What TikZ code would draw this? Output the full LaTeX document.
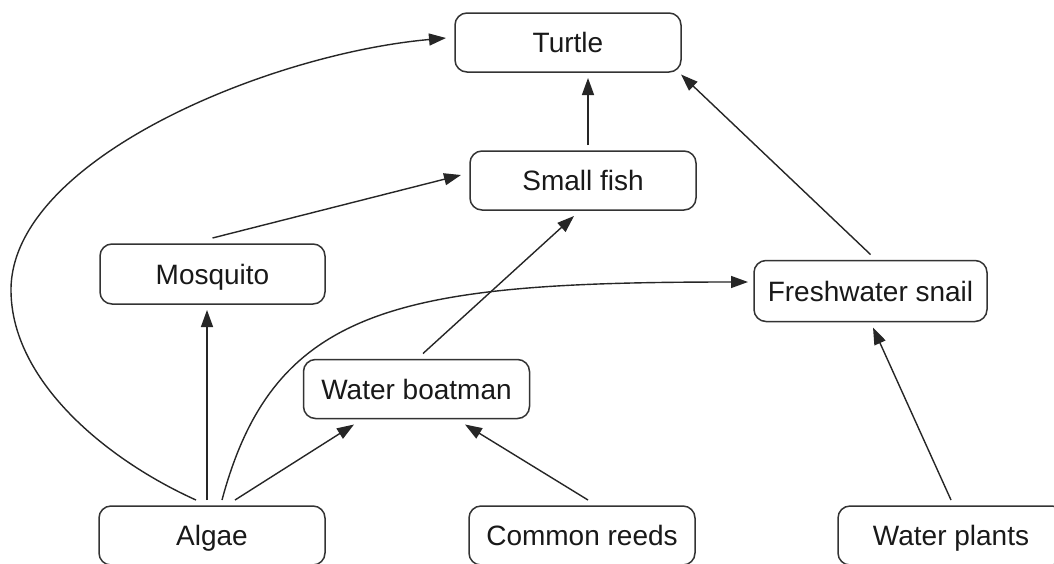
\documentclass[tikz,border=0pt]{standalone}
\usepackage{fontspec}
\setmainfont{Liberation Sans}
\usetikzlibrary{arrows.meta}
\begin{document}
\begin{tikzpicture}[x=1pt,y=-1pt,
  box/.style={draw=black!80, line width=1.5pt, rounded corners=12pt,
    minimum width=226pt, minimum height=59pt, inner sep=2pt, outer sep=6pt,
    text height=20.5pt, text depth=0pt,
    font=\fontsize{28}{33}\selectfont, text=black!90},
  link/.style={draw=black!85, line width=1.4pt, -{Triangle[length=17pt,width=12pt]}}]
\clip (0,0) rectangle (1054,563);
\fill[white] (0,0) rectangle (1054,563);
% nodes
\node[box] (turtle) at (568,42.5) {Turtle};
\node[box] (fish) at (583,180.5) {Small fish};
\node[box, minimum width=225pt, minimum height=60pt] (mosq) at (212.5,274) {Mosquito};
\node[box, minimum width=233pt, minimum height=61pt] (snail) at (870.5,291) {Freshwater snail};
\node[box] (boat) at (416.5,389) {Water boatman};
\node[box] (algae) at (212,535.5) {Algae};
\node[box] (reeds) at (582,535.5) {Common reeds};
\node[box] (plants) at (951,535.5) {Water plants};
\coordinate (bendA) at (11,290);
% connectors
\draw[link] ([xshift=-16pt]algae.north) .. controls (105,459) and (11,380) .. (bendA)
  .. controls (11,160) and (267,54) .. ([xshift=-3pt,yshift=4.5pt]turtle.west);
\draw[link] ([xshift=-5pt]algae.north) -- ([xshift=-5.5pt]mosq.south);
\draw[link] ([xshift=10pt]algae.north) .. controls (274,306) and (399,282) .. ([yshift=9pt]snail.west);
\draw[link] ([xshift=23pt]algae.north) -- ([xshift=-62.5pt]boat.south);
\draw[link] ([xshift=6pt]reeds.north) -- ([xshift=48.5pt]boat.south);
\draw[link] ([xshift=6.5pt]boat.north) -- ([xshift=-9pt]fish.south);
\draw[link] (mosq.north) -- ([xshift=-3pt,yshift=5.5pt]fish.west);
\draw[link] ([xshift=5pt]fish.north) -- ([xshift=20pt]turtle.south);
\draw[link] (snail.north) -- ([xshift=-6pt,yshift=3.5pt]turtle.south east);
\draw[link] (plants.north) -- ([xshift=2.5pt]snail.south);
\end{tikzpicture}
\end{document}
